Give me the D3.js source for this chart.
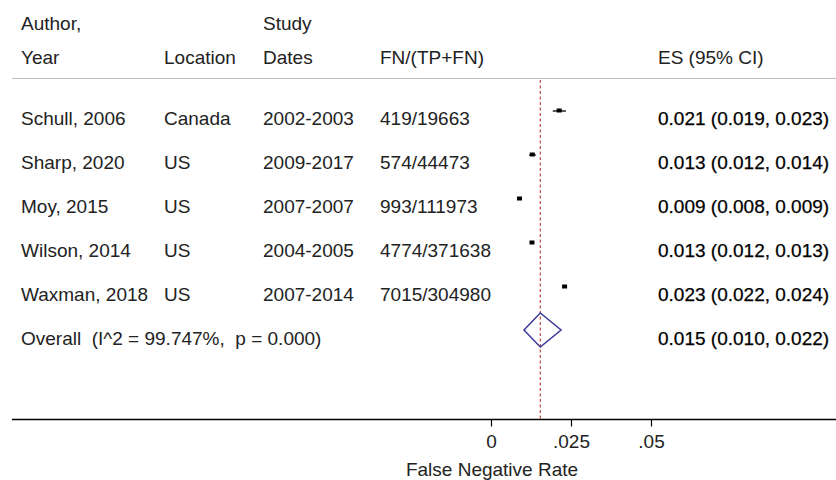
<!DOCTYPE html>
<html>
<head>
<meta charset="utf-8">
<script src="https://cdn.jsdelivr.net/npm/d3@7"></script>
<style>
html,body{margin:0;padding:0;background:#fff;}
svg text{font-family:"Liberation Sans",Arial,sans-serif;font-size:19px;white-space:pre;}
</style>
</head>
<body>
<svg id="chart" width="836" height="480"></svg>
<script>
// ---- data ----
const authors   = ["Schull, 2006","Sharp, 2020","Moy, 2015","Wilson, 2014","Waxman, 2018"];
const locations = ["Canada","US","US","US","US"];
const dates     = ["2002-2003","2009-2017","2007-2007","2004-2005","2007-2014"];
const fnCounts  = ["419/19663","574/44473","993/111973","4774/371638","7015/304980"];
const es        = [0.0213, 0.0129, 0.0089, 0.0128, 0.0230];
const ciLow     = [0.0193, 0.0119, 0.0083, 0.0124, 0.0224];
const ciHigh    = [0.0234, 0.0140, 0.0094, 0.0132, 0.0236];
const overallES = 0.0154, overallLow = 0.0103, overallHigh = 0.0219;
const overallLabel = "Overall  (I^2 = 99.747%,  p = 0.000)";
const xTicks = [0, 0.025, 0.05];
const xTickLabels = ["0", ".025", ".05"];
const xTitle = "False Negative Rate";
const headers1 = ["Author,", "", "Study", "", ""];
const headers2 = ["Year", "Location", "Dates", "FN/(TP+FN)", "ES (95% CI)"];

// ---- layout ----
const svg = d3.select("#chart");
const colX = [21, 164, 263, 380, 658];
const x = d3.scaleLinear().domain([0, 0.05]).range([491, 651]);
const rows = d3.range(authors.length + 1);
const y = d3.scalePoint().domain(rows).range([111, 331]);
const textOff = 14;
const fmt = d3.format(".3f");
const axisY = 419.5;

// headers
headers1.forEach((h,i)=>{ if(h) svg.append("text").attr("x",colX[i]).attr("y",30).attr("fill","#222").text(h); });
headers2.forEach((h,i)=>{ svg.append("text").attr("x",colX[i]).attr("y",64).attr("fill","#222").text(h); });
svg.append("line").attr("x1",12).attr("x2",836).attr("y1",78.5).attr("y2",78.5)
  .attr("stroke","#bdbdbd").attr("stroke-width",1.2);

// overall dashed line
svg.append("line").attr("x1",x(overallES)).attr("x2",x(overallES))
  .attr("y1",80).attr("y2",axisY)
  .attr("stroke","#b22222").attr("stroke-width",1).attr("stroke-dasharray","3,2.5");

// study rows
const cols = [authors, locations, dates, fnCounts];
authors.forEach((a,i)=>{
  cols.forEach((c,j)=>{
    svg.append("text").attr("x",colX[j]).attr("y",y(i)+textOff).attr("fill","#222").text(c[i]);
  });
  svg.append("text").attr("x",colX[4]).attr("y",y(i)+textOff).attr("fill","#000")
    .attr("stroke","#000").attr("stroke-width",0.25)
    .text(`${fmt(es[i])} (${fmt(ciLow[i])}, ${fmt(ciHigh[i])})`);
  svg.append("line").attr("x1",x(ciLow[i])).attr("x2",x(ciHigh[i]))
    .attr("y1",y(i)).attr("y2",y(i)).attr("stroke","#000").attr("stroke-width",1.3);
  const s = 5;
  svg.append("rect").attr("x",x(es[i])-s/2).attr("y",y(i)-s/2).attr("width",s).attr("height",s-1)
    .attr("fill","#000");
});

// overall row
const oi = authors.length;
svg.append("text").attr("x",colX[0]).attr("y",y(oi)+textOff).attr("fill","#222").text(overallLabel);
svg.append("text").attr("x",colX[4]).attr("y",y(oi)+textOff).attr("fill","#000")
  .attr("stroke","#000").attr("stroke-width",0.25)
  .text(`${fmt(overallES)} (${fmt(overallLow)}, ${fmt(overallHigh)})`);
const dh = 17, cy = y(oi) - 1;
svg.append("path")
  .attr("d", `M${x(overallLow)},${cy} L${x(overallES)},${cy-dh} L${x(overallHigh)},${cy} L${x(overallES)},${cy+dh} Z`)
  .attr("fill","none").attr("stroke","#3a3a9a").attr("stroke-width",1.5);

// axis
svg.append("line").attr("x1",12).attr("x2",836).attr("y1",axisY).attr("y2",axisY)
  .attr("stroke","#000").attr("stroke-width",1.4);
const axis = d3.axisBottom(x).tickValues(xTicks).tickSize(7).tickPadding(8)
  .tickFormat((d,i)=>xTickLabels[i]);
const ag = svg.append("g").attr("transform",`translate(0,${axisY})`).call(axis);
ag.select(".domain").remove();
ag.selectAll(".tick line").attr("stroke","#000").attr("stroke-width",1.2);
ag.selectAll(".tick text").attr("fill","#222").style("font-size","19px")
  .style("font-family","'Liberation Sans',Arial,sans-serif");
svg.append("text").attr("x",492).attr("y",476).attr("text-anchor","middle").attr("fill","#222").text(xTitle);
</script>
</body>
</html>
